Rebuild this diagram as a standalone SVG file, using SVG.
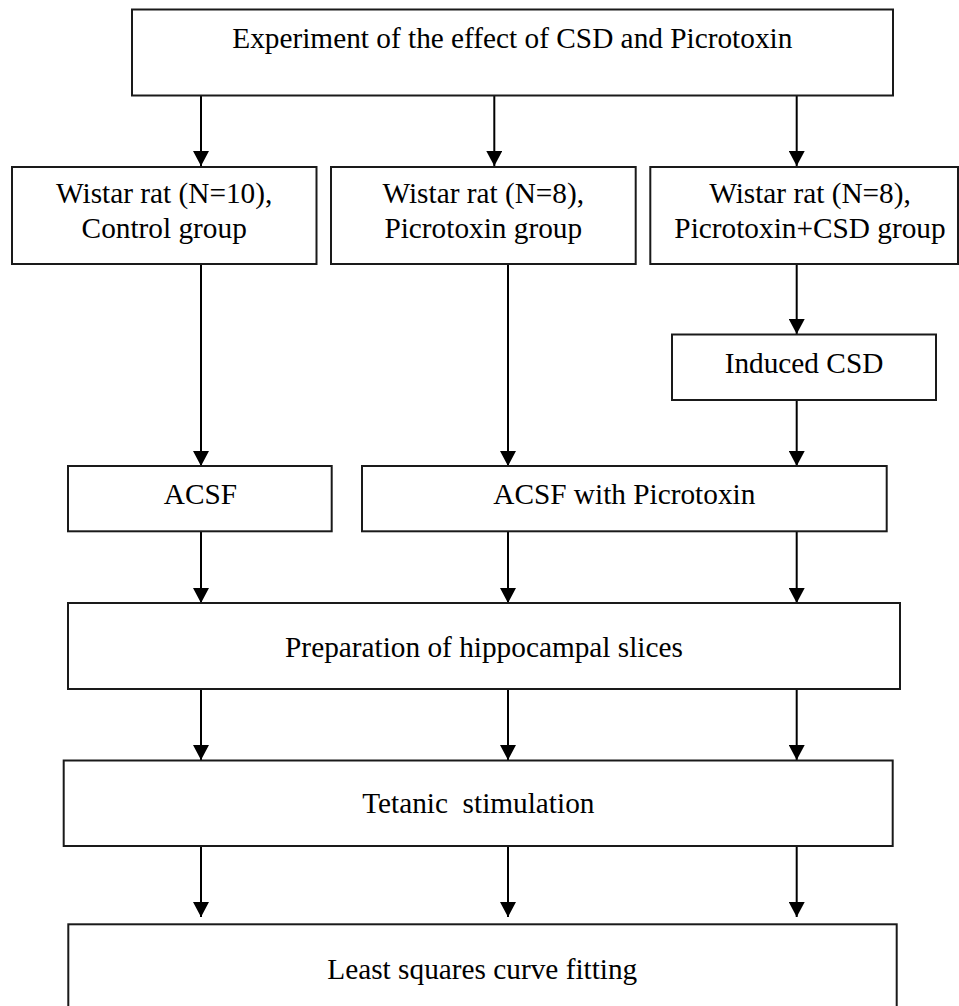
<svg xmlns="http://www.w3.org/2000/svg" width="959" height="1006" viewBox="0 0 959 1006">
<style>
.box{fill:#fff;stroke:#1a1a1a;stroke-width:2}
.lbl{font-family:'Liberation Serif','DejaVu Serif',serif;font-size:29.3px;fill:#000;text-anchor:middle}
.conn{stroke:#000;stroke-width:2;fill:none}
</style>
<defs>
<marker id="ah" markerUnits="userSpaceOnUse" viewBox="0 0 15 16" refX="15" refY="8" markerWidth="15" markerHeight="16" orient="auto">
<path d="M0,0 L15,8 L0,16 z" fill="#000"/>
</marker>
</defs>
<rect width="959" height="1006" fill="#fff"/>
<g id="connectors">
<line class="conn" x1="201" y1="95" x2="201" y2="166" marker-end="url(#ah)"/>
<line class="conn" x1="494.3" y1="95" x2="494.3" y2="166" marker-end="url(#ah)"/>
<line class="conn" x1="796.7" y1="95" x2="796.7" y2="166" marker-end="url(#ah)"/>
<line class="conn" x1="201" y1="264" x2="201" y2="466" marker-end="url(#ah)"/>
<line class="conn" x1="508" y1="264" x2="508" y2="466" marker-end="url(#ah)"/>
<line class="conn" x1="796.7" y1="264" x2="796.7" y2="334" marker-end="url(#ah)"/>
<line class="conn" x1="796.7" y1="400" x2="796.7" y2="466" marker-end="url(#ah)"/>
<line class="conn" x1="201" y1="531" x2="201" y2="603" marker-end="url(#ah)"/>
<line class="conn" x1="508" y1="531" x2="508" y2="603" marker-end="url(#ah)"/>
<line class="conn" x1="796.7" y1="531" x2="796.7" y2="603" marker-end="url(#ah)"/>
<line class="conn" x1="201" y1="689" x2="201" y2="760" marker-end="url(#ah)"/>
<line class="conn" x1="508" y1="689" x2="508" y2="760" marker-end="url(#ah)"/>
<line class="conn" x1="796.7" y1="689" x2="796.7" y2="760" marker-end="url(#ah)"/>
<line class="conn" x1="201" y1="846" x2="201" y2="917" marker-end="url(#ah)"/>
<line class="conn" x1="508" y1="846" x2="508" y2="917" marker-end="url(#ah)"/>
<line class="conn" x1="796.7" y1="846" x2="796.7" y2="917" marker-end="url(#ah)"/>
</g>
<g id="experiment">
<rect class="box" x="132" y="9.5" width="761" height="86"/>
<text class="lbl" x="512.3" y="47.5">Experiment of the effect of CSD and Picrotoxin</text>
</g>
<g id="control">
<rect class="box" x="12" y="167" width="304.5" height="97"/>
<text class="lbl" x="164.2" y="203.3">Wistar rat (N=10),</text>
<text class="lbl" x="164.2" y="237.7">Control group</text>
</g>
<g id="picrotoxin">
<rect class="box" x="331" y="167" width="304.7" height="97"/>
<text class="lbl" x="483.3" y="203.3">Wistar rat (N=8),</text>
<text class="lbl" x="483.3" y="237.7">Picrotoxin group</text>
</g>
<g id="picro-csd">
<rect class="box" x="650.3" y="167" width="307.7" height="97"/>
<text class="lbl" x="810" y="203.3">Wistar rat (N=8),</text>
<text class="lbl" x="810" y="237.7">Picrotoxin+CSD group</text>
</g>
<g id="induced-csd">
<rect class="box" x="672" y="334.5" width="264" height="65.5"/>
<text class="lbl" x="804" y="372.7">Induced CSD</text>
</g>
<g id="acsf">
<rect class="box" x="68" y="466" width="263.7" height="65.3"/>
<text class="lbl" x="200.5" y="504">ACSF</text>
</g>
<g id="acsf-picro">
<rect class="box" x="362" y="466" width="524.7" height="65.3"/>
<text class="lbl" x="624.3" y="504">ACSF with Picrotoxin</text>
</g>
<g id="preparation">
<rect class="box" x="68" y="603" width="832" height="86"/>
<text class="lbl" x="484" y="656.7">Preparation of hippocampal slices</text>
</g>
<g id="tetanic">
<rect class="box" x="63.7" y="760.5" width="829" height="85.5"/>
<text class="lbl" x="478.3" y="813.3" xml:space="preserve">Tetanic  stimulation</text>
</g>
<g id="least-squares">
<rect class="box" x="68.3" y="924.3" width="828.4" height="100"/>
<text class="lbl" x="482.3" y="979.3">Least squares curve fitting</text>
</g>
</svg>
